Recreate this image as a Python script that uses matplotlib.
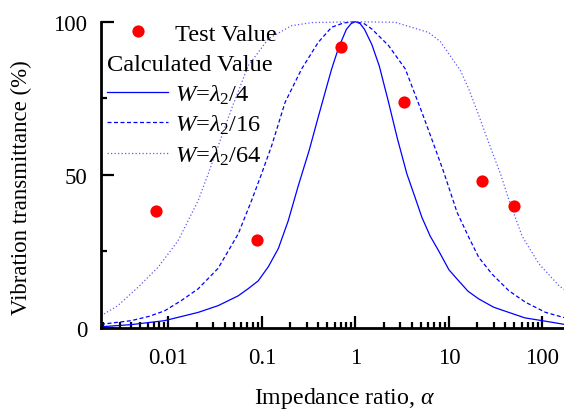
import matplotlib
matplotlib.use("Agg")
import matplotlib.pyplot as plt
from matplotlib.ticker import FixedLocator, LogLocator, NullFormatter, MultipleLocator

plt.rcParams['font.family'] = ['Liberation Serif', 'DejaVu Serif']
plt.rcParams['mathtext.fontset'] = 'custom'
plt.rcParams['mathtext.rm'] = 'Liberation Serif'
plt.rcParams['mathtext.it'] = 'Liberation Serif:italic'

# ---- data ----
test_x = [0.0074, 0.089, 0.695, 3.29, 22.8, 49.2]
test_y = [38.2, 28.7, 91.8, 73.7, 48.1, 39.7]

w4_x = [0.0019, 0.004, 0.0091, 0.0208, 0.034, 0.0557, 0.071, 0.0913, 0.117, 0.15,
        0.191, 0.245, 0.32, 0.401, 0.5, 0.557, 0.66, 0.8, 0.9, 1.0, 1.12, 1.25,
        1.5, 1.8, 2.26, 2.8, 3.55, 4.3, 5.14, 6.3, 7.76, 10, 12.7, 16, 20.8, 30,
        43.6, 65, 99.3, 170]
w4_y = [0.4, 1.1, 2.4, 5.1, 7.3, 10.5, 12.8, 15.4, 20.0, 26.0,
        35.0, 46.5, 58.0, 69.0, 79.5, 84.6, 91.5, 97.5, 99.4, 100, 99.4, 97.5,
        92.5, 85.5, 73.7, 62.0, 50.3, 43.0, 36.1, 30.0, 25.2, 19.0, 15.4, 12.0, 9.5, 6.8,
        5.1, 3.3, 2.4, 1.2]

w16_x = [0.0019, 0.004, 0.0062, 0.0091, 0.0138, 0.0208, 0.034, 0.0557, 0.0774, 0.099,
         0.127, 0.177, 0.266, 0.401, 0.557, 0.75, 1.0, 1.25, 1.5, 2.26, 3.41, 5.14,
         7.15, 8.77, 12.2, 16.3, 20.8, 28.9, 43.6, 65.9, 108, 170]
w16_y = [1.2, 2.4, 3.8, 5.6, 9.0, 12.8, 19.5, 30.7, 41.6, 50.3,
         59.5, 73.7, 84.6, 93.3, 98.2, 99.6, 100, 99.3, 97.6, 92.2, 84.6, 70.4,
         58.5, 51.0, 37.8, 29.6, 23.1, 17.6, 12.2, 8.4, 5.1, 3.4]

w64_x = [0.0019, 0.00288, 0.00472, 0.00774, 0.01268, 0.0208, 0.0266, 0.0313, 0.0472,
         0.0713, 0.117, 0.207, 0.34, 1.0, 2.66, 6.06, 8.1, 10.8, 13.3, 16.3, 20.8,
         26.6, 35.6, 43.6, 60.6, 91.5, 150, 170]
w64_y = [4.0, 7.3, 13.3, 19.8, 28.5, 41.6, 50.3, 56.3, 71.5,
         85.6, 94.4, 98.7, 99.7, 100, 99.8, 96.5, 93.5, 88.0, 84.0, 78.0, 69.5,
         60.5, 50.3, 42.0, 30.0, 21.0, 13.8, 12.6]

xticks = [0.01, 0.1, 1, 10, 100]
xtick_labels = ['0.01', '0.1', '1', '10', '100']
yticks = [0, 50, 100]
ytick_labels = ['0', '50', '100']

fig = plt.figure(figsize=(5.64, 4.10), dpi=100)
ax = fig.add_axes([101/564, 1 - 329/410, 1 - 101/564, 306.3/410])

blue = '#0000ff'
l1, = ax.plot(w4_x, w4_y, color=blue, lw=0.9, clip_on=False)
l2, = ax.plot(w16_x, w16_y, color=blue, lw=0.9, dashes=(3.2, 2.0), clip_on=False)
l3, = ax.plot(w64_x, w64_y, color='#5a5aff', lw=0.9, dashes=(1.0, 1.8), clip_on=False)
pts, = ax.plot(test_x, test_y, 'o', color='#ff0000', ms=8.8, mec='none',
               linestyle='none', zorder=5, clip_on=False)

ax.set_xscale('log')
ax.set_xlim(0.0019, 170)
ax.set_ylim(0, 100)

ax.xaxis.set_major_locator(FixedLocator(xticks))
ax.set_xticklabels(xtick_labels)
ax.xaxis.set_minor_locator(LogLocator(base=10, subs=range(2, 10), numticks=20))
ax.xaxis.set_minor_formatter(NullFormatter())
ax.yaxis.set_major_locator(FixedLocator(yticks))
ax.set_yticklabels(ytick_labels)
ax.yaxis.set_minor_locator(MultipleLocator(25))

for s in ['top', 'right']:
    ax.spines[s].set_visible(False)
for s in ['left', 'bottom']:
    ax.spines[s].set_linewidth(2.0)

ax.tick_params(which='major', direction='in', length=9, width=1.6,
               labelsize=16.5, top=False, right=False)
ax.tick_params(which='minor', direction='in', length=4.5, width=1.6,
               top=False, right=False)
ax.tick_params(axis='x', which='major', pad=14)
ax.tick_params(axis='y', which='major', pad=10)

ax.set_ylabel('Vibration transmittance (%)', fontsize=16.5)
ax.yaxis.set_label_coords(-0.149, 0.46)
ax.set_xlabel(r'Impedance ratio, $\alpha$', fontsize=17.2)
ax.xaxis.set_label_coords(0.527, -0.185)

fs_leg = 17.6
leg1 = ax.legend([pts], ['Test Value'], loc='upper left',
                 bbox_to_anchor=(0.013, 0.996), frameon=False, fontsize=fs_leg,
                 handlelength=2.5, handletextpad=0.3, borderpad=0,
                 borderaxespad=0)
ax.add_artist(leg1)
leg2 = ax.legend([l1, l2, l3],
                 [r'$W$=$\lambda_2$/4', r'$W$=$\lambda_2$/16', r'$W$=$\lambda_2$/64'],
                 title='Calculated Value', title_fontsize=fs_leg, alignment='left',
                 loc='upper left', bbox_to_anchor=(0.013, 0.8945), frameon=False,
                 fontsize=fs_leg, handlelength=2.5, handletextpad=0.3,
                 labelspacing=0.3, borderpad=0, borderaxespad=0)

fig.savefig('out.png', dpi=100)
